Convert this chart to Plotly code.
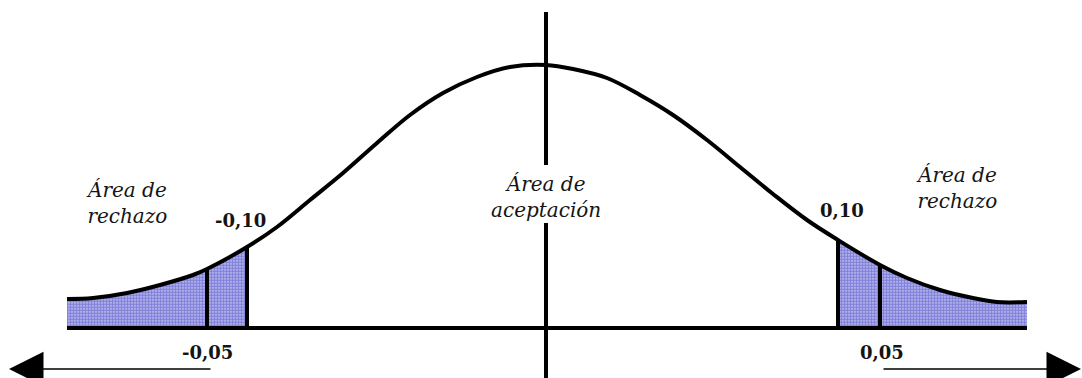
import plotly.graph_objects as go

# curve (x: distance from centre, y: height above baseline)
curve_x = [-4.79, -4.53, -4.19, -3.86, -3.53, -3.39, -2.99, -2.69, -2.36, -2.03,
           -1.69, -1.36, -1.03, -0.69, -0.36, 0.0, 0.27, 0.61, 0.94, 1.27,
           1.61, 1.94, 2.27, 2.61, 2.92, 3.34, 3.61, 3.94, 4.27, 4.51, 4.81]
curve_y = [0.29, 0.30, 0.35, 0.43, 0.53, 0.59, 0.81, 1.01, 1.28, 1.55,
           1.85, 2.13, 2.35, 2.51, 2.61, 2.63, 2.59, 2.50, 2.33, 2.13,
           1.88, 1.61, 1.34, 1.08, 0.88, 0.63, 0.50, 0.38, 0.30, 0.26, 0.26]

# critical value lines
cut_x = [-3.39, -2.99, 2.92, 3.34]
cut_top = [0.59, 0.81, 0.88, 0.63]
cut_labels = ["-0,05", "-0,10", "0,10", "0,05"]

# vertical axis pieces (gap for the centre text)
axis_low = [-0.50, 1.05]
axis_high = [1.63, 3.16]

area_reject = "Área de<br>rechazo"
area_accept = "Área de<br>aceptación"

ink = "black"
stipple = dict(shape=".", fgcolor="#3838c4", bgcolor="#c8c8f0", size=3, solidity=0.7)

fig = go.Figure()

# shaded rejection tails
left = [(x, y) for x, y in zip(curve_x, curve_y) if x <= cut_x[1]]
right = [(x, y) for x, y in zip(curve_x, curve_y) if x >= cut_x[2]]
for part in (left, right):
    fig.add_trace(go.Scatter(x=[p[0] for p in part], y=[p[1] for p in part],
                             mode="lines", line=dict(width=0, shape="spline"),
                             fill="tozeroy", fillcolor="#c8c8f0",
                             fillpattern=stipple, hoverinfo="skip"))

fig.add_trace(go.Scatter(x=curve_x, y=curve_y, mode="lines",
                         line=dict(color=ink, width=4, shape="spline")))

# baseline
fig.add_trace(go.Scatter(x=[curve_x[0], curve_x[-1]], y=[0, 0], mode="lines",
                         line=dict(color=ink, width=4)))

for cx, ct in zip(cut_x, cut_top):
    fig.add_trace(go.Scatter(x=[cx, cx], y=[0, ct], mode="lines",
                             line=dict(color=ink, width=4)))

for seg in (axis_low, axis_high):
    fig.add_trace(go.Scatter(x=[0, 0], y=seg, mode="lines",
                             line=dict(color=ink, width=4)))

italic = dict(family="DejaVu Serif", size=20, color="#141414", style="italic")
bold = dict(family="DejaVu Serif", size=18, color="#141414", weight="bold")

texts = [
    (-4.20, 1.25, area_reject, italic),
    (4.10, 1.40, area_reject, italic),
    (0.0, 1.31, area_accept, italic),
    (-3.39, -0.24, cut_labels[0], bold),
    (-3.06, 1.08, cut_labels[1], bold),
    (2.96, 1.18, cut_labels[2], bold),
    (3.36, -0.24, cut_labels[3], bold),
]
for tx, ty, t, f in texts:
    fig.add_annotation(x=tx, y=ty, text=t, showarrow=False, font=f,
                       xanchor="center", yanchor="middle")

# arrows under the axis
for tip, tail in ((-5.37, -3.34), (5.35, 3.36)):
    fig.add_annotation(x=tip, y=-0.41, ax=tail, ay=-0.41, axref="x", ayref="y",
                       text="", showarrow=True, arrowhead=2, arrowsize=4.6,
                       arrowwidth=1.5, arrowcolor=ink)

fig.update_layout(width=1082, height=378, margin=dict(l=0, r=0, t=0, b=0),
                  plot_bgcolor="white", paper_bgcolor="white", showlegend=False,
                  xaxis=dict(range=[-5.46, 5.36], visible=False, fixedrange=True),
                  yaxis=dict(range=[-0.50, 3.28], visible=False, fixedrange=True))

fig.write_html("out.html", config={"displayModeBar": False},
               post_script="document.body.style.margin='0';")
